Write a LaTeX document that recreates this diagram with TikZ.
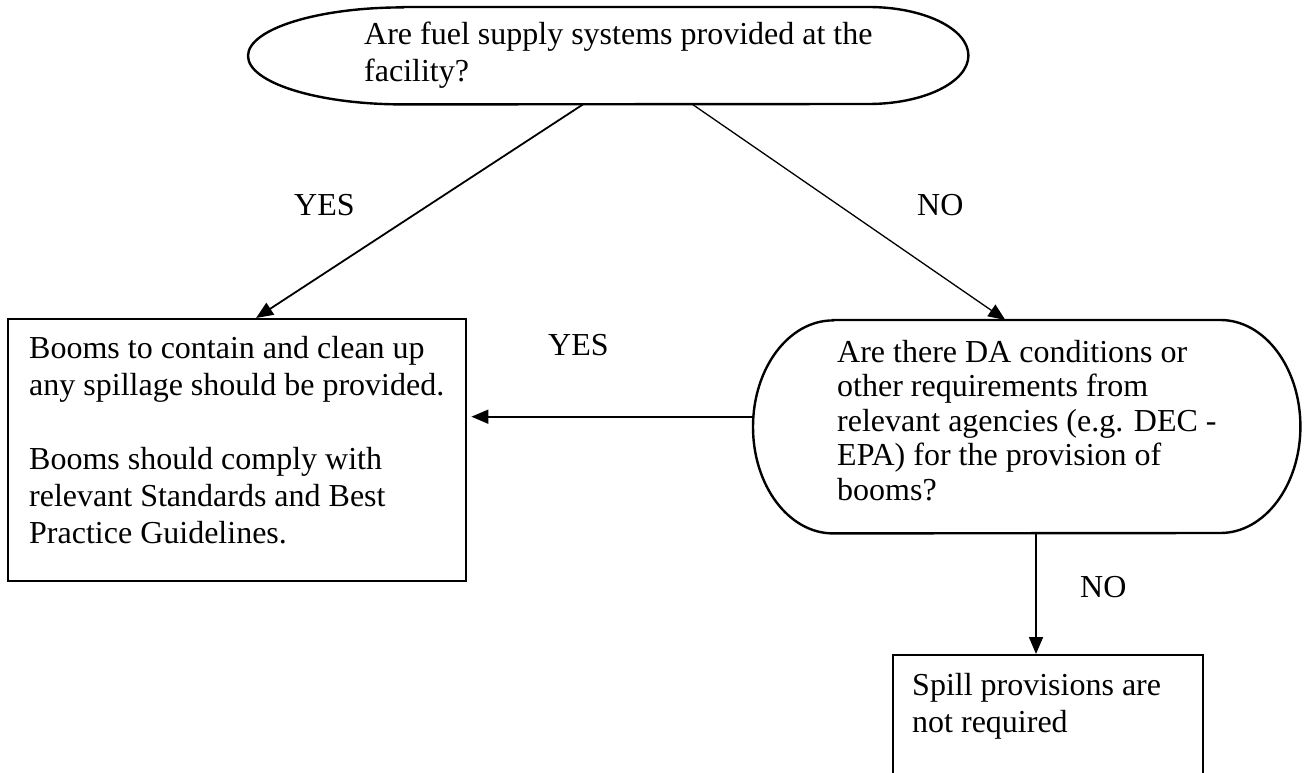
\documentclass[tikz,border=0pt]{standalone}
\usepackage{fontspec}
\setmainfont{Liberation Serif}
\usetikzlibrary{arrows.meta,calc}
\begin{document}
\begin{tikzpicture}[x=1pt,y=-1pt,
  outline/.style={line width=2.4pt},
  frame/.style={rectangle, inner sep=0pt, anchor=north west},
  boxnode/.style={frame, draw, line width=2.4pt},
  body/.style={anchor=base west, inner sep=0pt, font=\fontsize{32}{37}\selectfont},
  tag/.style={anchor=base west, inner sep=0pt, font=\fontsize{32}{37}\selectfont},
  flow/.style={line width=1.8pt, -{Triangle[length=17pt,width=14pt]}},
]
\clip (0,0) rectangle (1312,773);
\fill[white] (0,0) rectangle (1312,773);

% question: fuel supply systems (stadium with elliptical ends)
\node[frame, minimum width=720pt, minimum height=97pt] (q1) at (248,7) {};
\draw[outline] ($(q1.north west)+(155,0)$) -- ($(q1.north east)-(100,0)$)
  arc[start angle=90, end angle=-90, x radius=100pt, y radius=48.5pt]
  -- ($(q1.south west)+(155,0)$)
  arc[start angle=270, end angle=90, x radius=155pt, y radius=48.5pt] -- cycle;
\node[body] (q1t) at (364,45) {\begin{tabular}[t]{@{}l@{}}Are fuel supply systems provided at the\\facility?\end{tabular}};

% question: DA conditions (box with elliptical ends)
\node[frame, minimum width=547pt, minimum height=213pt] (d1) at (753,320) {};
\draw[outline] ($(d1.north west)+(80,0)$) -- ($(d1.north east)-(80,0)$)
  arc[start angle=90, end angle=-90, x radius=80pt, y radius=106.5pt]
  -- ($(d1.south west)+(80,0)$)
  arc[start angle=270, end angle=90, x radius=80pt, y radius=106.5pt] -- cycle;
\node[body, font=\fontsize{32}{34.5}\selectfont] (d1t) at (837,362) {\begin{tabular}[t]{@{}l@{}}Are there DA conditions or\\other requirements from\\relevant agencies (e.g. DEC -\\EPA) for the provision of\\booms?\end{tabular}};

% outcome: booms required
\node[boxnode, minimum width=458pt, minimum height=262pt] (b1) at (7,318) {};
\node[body] (b1t) at (29,358) {\begin{tabular}[t]{@{}l@{}}Booms to contain and clean up\\any spillage should be provided.\\ \\Booms should comply with\\relevant Standards and Best\\Practice Guidelines.\end{tabular}};

% outcome: nothing required
\node[boxnode, minimum width=310pt, minimum height=160pt] (b2) at (892,654) {};
\node[body] (b2t) at (912,695) {\begin{tabular}[t]{@{}l@{}}Spill provisions are\\not required\end{tabular}};

% branch labels
\node[tag] (yes1) at (294,215) {YES};
\node[tag] (no1) at (917,215) {NO};
\node[tag] (yes2) at (548,355) {YES};
\node[tag] (no2) at (1080,597) {NO};

% connectors
\coordinate (b2in) at ($(b2.north west)!0.461!(b2.north east)$);
\draw[flow] ($(q1.south west)!0.465!(q1.south east)$) -- ($(b1.north west)!0.541!(b1.north east)$);
\draw[flow, line width=1.3pt] ($(q1.south west)!0.617!(q1.south east)$) -- ($(d1.north west)!0.461!(d1.north east)$);
\draw[flow, shorten >=4pt] ([yshift=10pt]d1.west) -- ([yshift=10pt]d1.west -| b1.east);
\draw[flow] (d1.south -| b2in) -- (b2in);
\end{tikzpicture}
\end{document}
